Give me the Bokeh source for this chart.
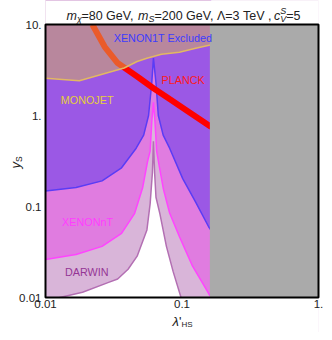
import math
from bokeh.plotting import figure
from bokeh.models import Label, Range1d
from bokeh.embed import file_html
from bokeh.resources import INLINE

# ---------------- data ----------------
x_ticks = [0.01, 0.1, 1]
x_tick_labels = ["0.01", "0.1", "1."]
y_ticks = [0.01, 0.1, 1, 10]
y_tick_labels = ["0.01", "0.1", "1.", "10."]

# XENON1T exclusion boundary (blue)
x1t_lam = [0.01, 0.01674, 0.02596, 0.03607, 0.04616, 0.05239, 0.05689, 0.06007, 0.06176,
           0.06446, 0.06705, 0.07278, 0.08114, 0.1012, 0.1259, 0.1567, 0.1637]
x1t_y = [0.1484, 0.1619, 0.1912, 0.2661, 0.4373, 0.6086, 1.0, 2.293, 4.266,
         2.293, 1.0, 0.6086, 0.4373, 0.2025, 0.1115, 0.05994, 0.05428]

# XENONnT projected boundary (magenta)
xnt_lam = [0.01, 0.01674, 0.02596, 0.03607, 0.04488, 0.05153, 0.05597, 0.05841, 0.06007, 0.06176,
           0.06340, 0.06521, 0.06848, 0.07315, 0.08114, 0.09565, 0.1192, 0.1567, 0.1637]
xnt_y = [0.02621, 0.02969, 0.03648, 0.05076, 0.08339, 0.1619, 0.3143, 0.4059, 0.8551, 1.395,
         0.8551, 0.4059, 0.2661, 0.1541, 0.08487, 0.04676, 0.02220, 0.01107, 0.01003]

# DARWIN projected boundary
dw_lam = [0.01, 0.01274, 0.01868, 0.02898, 0.03378, 0.04027, 0.04692, 0.05533, 0.05841, 0.0607,
          0.06176, 0.0630, 0.06446, 0.06883, 0.07688, 0.08625, 0.09838, 0.1104]
dw_y = [0.00908, 0.01, 0.01144, 0.01466, 0.01595, 0.02045, 0.02846, 0.05524, 0.1069, 0.235,
        0.5203, 0.235, 0.1263, 0.08341, 0.03648, 0.01912, 0.01, 0.00822]

# PLANCK relic density line
pl_lam = [0.02203, 0.02714, 0.03378, 0.04692, 0.06176, 0.08114, 0.1068, 0.1567, 0.1637]
pl_y = [10.0, 5.691, 3.769, 2.682, 1.990, 1.514, 1.152, 0.7800, 0.7459]

# MONOJET bound
mj_lam = [0.01, 0.0177, 0.0311, 0.0377, 0.0469, 0.0553, 0.0708, 0.0957, 0.126, 0.161]
mj_y = [2.57, 2.41, 3.06, 3.33, 3.92, 4.26, 4.71, 4.95, 5.47, 5.94]

# grey region starts here
grey_lam_min = 0.16

X0, X1 = 0.01, 1.0
Y0, Y1 = 0.01, 10.0

# ---------------- layout ----------------
FONT = "Liberation Sans"
W_FIG, H_FIG = 324, 332
FL, FR, FT, FB = 45, 318, 24, 297          # plot box in canvas pixels
DX = (FR - FL) / math.log10(X1 / X0)        # px per decade
DY = (FB - FT) / math.log10(Y1 / Y0)
lx0 = math.log10(X0) - FL / DX
ly1 = math.log10(Y1) + FT / DY
XS, XE = 10 ** lx0, 10 ** (lx0 + W_FIG / DX)
YS, YE = 10 ** (ly1 - H_FIG / DY), 10 ** ly1


def px2x(px):
    return 10 ** (lx0 + px / DX)


def py2y(py):
    return 10 ** (ly1 - py / DY)


p = figure(width=W_FIG, height=H_FIG, x_axis_type="log", y_axis_type="log",
           x_range=Range1d(XS, XE), y_range=Range1d(YS, YE),
           x_axis_location=None, y_axis_location=None,
           output_backend="svg", toolbar_location=None,
           min_border_left=0, min_border_right=0, min_border_top=0, min_border_bottom=0)
p.title.visible = False
p.grid.visible = False
p.background_fill_color = "white"
p.border_fill_color = "white"
p.outline_line_color = None


def above(lam, yv, fill_right_below=False):
    xs = list(lam)
    ys = list(yv)
    if fill_right_below:
        xs += [X1, X1]
        ys += [YS, YE]
    else:
        xs += [lam[-1]]
        ys += [YE]
    xs += [lam[0]]
    ys += [YE]
    return xs, ys

# DARWIN fill
xs, ys = above(dw_lam, dw_y, fill_right_below=True)
p.patch(xs, ys, fill_color="#d9b5d9", line_color=None)
# XENONnT fill
xs, ys = above(xnt_lam, xnt_y)
p.patch(xs, ys, fill_color="#e07ce0", line_color=None)
# XENON1T fill
xs, ys = above(x1t_lam, x1t_y)
p.patch(xs, ys, fill_color="#9b58e5", line_color=None)

p.line(dw_lam, dw_y, line_color="#b36fb3", line_width=1.5)
p.line(xnt_lam, xnt_y, line_color="#ff44ff", line_width=1.5)
p.line(x1t_lam, x1t_y, line_color="#5a3cf5", line_width=1.5)

# PLANCK
p.line(pl_lam, pl_y, line_color="#ff0000", line_width=6)

# MONOJET overlay
xs, ys = above(mj_lam, mj_y)
p.patch(xs, ys, fill_color="#d5b556", fill_alpha=0.5, line_color=None)
p.line(mj_lam, mj_y, line_color="#e2b862", line_width=1.5)

# grey region
p.quad(left=[grey_lam_min], right=[X1], bottom=[Y0], top=[Y1],
       fill_color="#aaaaaa", line_color=None)

# white margins around the plot box, then the box outline
p.quad(left=[XS, X1, X0, X0], right=[X0, XE, X1, X1],
       bottom=[YS, YS, YS, Y1], top=[YE, YE, Y0, YE],
       fill_color="white", line_color=None)
p.quad(left=[X0], right=[X1], bottom=[Y0], top=[Y1],
       fill_color=None, line_color="black", line_width=2)


def lab(x, y, text, size, color="#222222", italic=False, align="left",
        baseline="alphabetic", angle=0.0):
    p.add_layout(Label(x=x, y=y, text=text, text_font=FONT,
                       text_font_size=f"{size}px",
                       text_font_style="italic" if italic else "normal",
                       text_color=color, text_align=align, text_baseline=baseline,
                       angle=angle))

# tick labels
for t, s in zip(y_ticks, y_tick_labels):
    lab(px2x(FL - 4), t, s, 11.5, align="right", baseline="middle")
for t, s in zip(x_ticks, x_tick_labels):
    lab(t, py2y(FB + 2), s, 11.5, align="center", baseline="top")

# region labels (data space)
lab(0.0316, 7.06, "XENON1T Excluded", 10.8, "#3c3cff", baseline="middle")
lab(0.0708, 2.46, "PLANCK", 10.8, "#ff1a1a", baseline="middle")
lab(0.01294, 1.476, "MONOJET", 10.8, "#e6cf3a", baseline="middle")
lab(0.01323, 0.0679, "XENONnT", 10.8, "#ff3cff", baseline="middle")
lab(0.0139, 0.0191, "DARWIN", 10.8, "#953595", baseline="middle")

# Arial-like advance widths (per 1000 em)
W = {'m': 833, '=': 584, ' ': 278, 'G': 778, 'e': 556, 'V': 667, ',': 278, 'S': 667,
     'Λ': 667, 'T': 611, 'c': 500, 'χ': 500, 'H': 722, 'λ': 500, "'": 191, 'y': 500}


def tw(s, size):
    return sum(W.get(ch, 556) for ch in s) * size / 1000.0


def plab(px, py, text, size, italic=False, angle=0.0):
    lab(px2x(px), py2y(py), text, size, italic=italic, angle=angle)

# title
big, small = 12.5, 9
x = 66.0
base = 15.0
pieces = [("m", big, True, 0), ("χ", small, True, 3), ("=80 GeV, ", big, False, 0),
          ("m", big, True, 0), ("S", small, True, 3), ("=200 GeV, Λ=3 TeV ,", big, False, 0),
          ("c", big, True, 0)]
for t, s, it, dy in pieces:
    plab(x, base + dy, t, s, it)
    x += tw(t, s)
plab(x, base - 5, "S", small, True)
plab(x, base + 3, "V", small, True)
x += tw("V", small)
plab(x, base, "=5", big, False)

# x-axis label  λ'_HS
xl = 172.0
plab(xl, 321, "λ", 13, True)
xl += tw("λ", 13)
plab(xl, 321, "'", 13, False)
xl += tw("'", 13)
plab(xl, 324, "HS", 8, False)

# y-axis label  y_S (rotated)
plab(15, 168, "y", 13, True, angle=math.pi / 2)
plab(18, 168 - tw("y", 13), "S", 8.5, False, angle=math.pi / 2)

open("out.html", "w").write(file_html(p, INLINE))
